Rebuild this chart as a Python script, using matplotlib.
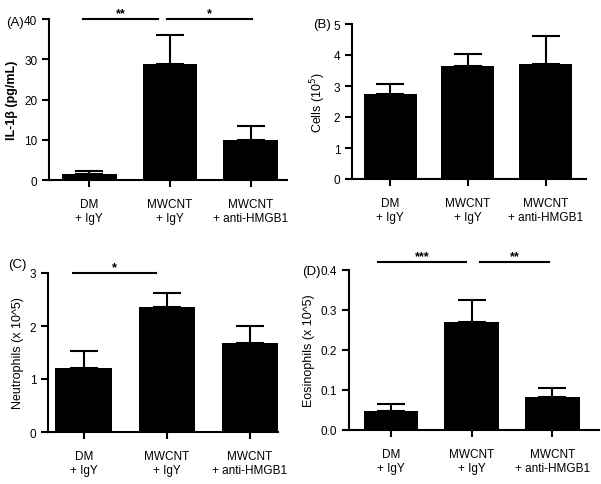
import numpy as np
import matplotlib.pyplot as plt

plt.rcParams['font.family'] = ['Liberation Sans', 'DejaVu Sans']

groups = ['DM\n+ IgY', 'MWCNT\n+ IgY', 'MWCNT\n+ anti-HMGB1']

il1b = [1.5, 28.7, 10.0]
il1b_err = [0.7, 7.3, 3.5]

cells = [2.75, 3.65, 3.7]
cells_err = [0.3, 0.37, 0.92]

neut = [1.2, 2.35, 1.67]
neut_err = [0.32, 0.28, 0.33]

eos = [0.047, 0.27, 0.082]
eos_err = [0.019, 0.056, 0.022]

W, H = 601, 485
fig = plt.figure(figsize=(W / 100, H / 100), dpi=100)


def make_ax(l, r, t, b):
    return fig.add_axes([l / W, 1 - b / H, (r - l) / W, (b - t) / H])


def bar_panel(ax, vals, errs, ylim, yticks, xlim, ylabel, bold=False, fmt=None):
    x = np.arange(len(vals))
    ax.bar(x, vals, width=0.68, color='black', zorder=2)
    ax.errorbar(x, vals, yerr=[np.zeros(len(errs)), errs], fmt='none',
                ecolor='black', elinewidth=1.5, capsize=10, capthick=1.5, zorder=1)
    ax.set_ylim(*ylim)
    ax.set_xlim(*xlim)
    ax.set_yticks(yticks)
    if fmt:
        ax.set_yticklabels([fmt % v for v in yticks])
    ax.set_xticks(x)
    ax.set_xticklabels(groups)
    for s in ['top', 'right']:
        ax.spines[s].set_visible(False)
    for s in ['left', 'bottom']:
        ax.spines[s].set_linewidth(1.5)
    ax.tick_params(direction='out', width=1.5, length=5, labelsize=8.5)
    ax.tick_params(axis='x', pad=8, labelsize=8.5)
    ax.set_ylabel(ylabel, fontsize=9, fontweight='bold' if bold else 'normal')


def sig(ax, x0, x1, y, text):
    ax.plot([x0, x1], [y, y], color='black', lw=1.5, clip_on=False)
    ax.text((x0 + x1) / 2, y, text, ha='center', va='bottom', fontsize=9,
            fontweight='bold')


# (A)
axA = make_ax(49, 287, 20, 181)
bar_panel(axA, il1b, il1b_err, (0, 40), [0, 10, 20, 30, 40], (-0.5, 2.45),
          'IL-1β (pg/mL)', bold=True)
sig(axA, -0.08, 0.85, 40, '**')
sig(axA, 0.96, 2.02, 40, '*')
fig.text(6 / W, 1 - 23 / H, '(A)', fontsize=9.5, va='center')

# (B)
axB = make_ax(352, 586, 25, 180)
bar_panel(axB, cells, cells_err, (0, 5), [0, 1, 2, 3, 4, 5], (-0.49, 2.52),
          'Cells (10$^5$)')
fig.text(313 / W, 1 - 25 / H, '(B)', fontsize=9.5, va='center')

# (C)
axC = make_ax(48, 278, 274, 433)
bar_panel(axC, neut, neut_err, (0, 3), [0, 1, 2, 3], (-0.43, 2.34),
          'Neutrophils (x 10^5)')
sig(axC, -0.13, 0.87, 3.0, '*')
fig.text(8 / W, 1 - 265 / H, '(C)', fontsize=9.5, va='center')

# (D)
axD = make_ax(349, 599, 271, 431)
bar_panel(axD, eos, eos_err, (0, 0.4), [0.0, 0.1, 0.2, 0.3, 0.4], (-0.52, 2.58),
          'Eosinophils (x 10^5)', fmt='%.1f')
sig(axD, -0.16, 0.93, 0.42, '***')
sig(axD, 1.11, 1.96, 0.42, '**')
fig.text(302 / W, 1 - 272 / H, '(D)', fontsize=9.5, va='center')

fig.savefig('out.png', dpi=100)
